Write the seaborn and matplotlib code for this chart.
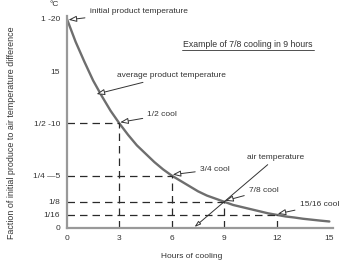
import matplotlib
matplotlib.use("Agg")
import matplotlib.pyplot as plt
import seaborn as sns
import pandas as pd

hours = [0, 0.5, 1, 1.5, 2, 2.5, 3, 3.5, 4, 4.5, 5, 5.5, 6, 6.5, 7, 7.5, 8, 8.5, 9, 9.5,
         10, 10.5, 11, 11.5, 12, 12.5, 13, 13.5, 14, 14.5, 15]
product_temp = [20, 17.8, 15.9, 14.1, 12.6, 11.2, 10, 8.9, 7.9, 7.1, 6.3, 5.6, 5, 4.5, 4.0,
                3.5, 3.1, 2.8, 2.5, 2.2, 2.0, 1.8, 1.6, 1.4, 1.25, 1.1, 1.0, 0.88, 0.79,
                0.7, 0.62]

cool_hours = [3, 6, 9, 12]
cool_levels = [10, 5, 2.5, 1.25]
cool_labels = ["1/2 cool", "3/4 cool", "7/8 cool", "15/16 cool"]

xticks = [0, 3, 6, 9, 12, 15]
yticks = [0, 1.25, 2.5, 5, 10, 15, 20]
ytick_labels = ["0", "1/16", "1/8", "1/4 \u20145", "1/2 -10", "15", "1 -20"]

sns.set_theme(style="white")
plt.rcParams['font.family'] = ['Liberation Sans', 'DejaVu Sans']

fig = plt.figure(figsize=(3.5, 2.74), dpi=100)
ax = fig.add_axes([0.191, 0.168, 0.76, 0.775])

df = pd.DataFrame({"h": hours, "t": product_temp})
sns.lineplot(data=df, x="h", y="t", ax=ax, color="#6e6e6e", lw=1.7)

dash = dict(color="#2a2a2a", lw=0.9, ls=(0, (6, 4)))
for h, lv in zip(cool_hours, cool_levels):
    ax.plot([0, h], [lv, lv], **dash)
    ax.plot([h, h], [0, lv], **dash)

ax.set_xlim(0, 15.2)
ax.set_ylim(0, 20.3)
ax.set_xticks(xticks)
ax.set_xticklabels([str(x) for x in xticks], fontsize=6, color="#333333")
ax.set_yticks(yticks)
ax.set_yticklabels(ytick_labels, fontsize=6, color="#333333")
ax.tick_params(axis="both", length=3, width=0.8, color="#444444", direction="out", pad=2)
for s in ["top", "right"]:
    ax.spines[s].set_visible(False)
for s in ["left", "bottom"]:
    ax.spines[s].set_color("#999999")
    ax.spines[s].set_linewidth(1.6)

ax.set_xlabel("Hours of cooling", fontsize=6, color="#333333")
ax.xaxis.set_label_coords(0.47, -0.12)
ax.set_ylabel("Faction of initial produce to air temperature difference", fontsize=6.4,
              color="#333333")
ax.yaxis.set_label_coords(-0.19, 0.45)
ax.text(-1.0, 21.2, "\u00b0C", fontsize=6, color="#333333", clip_on=False)

ap = dict(arrowstyle="-|>,head_length=0.8,head_width=0.3", fc="white", ec="#333333", lw=0.7,
          shrinkA=1, shrinkB=0)
kw = dict(fontsize=6, color="#333333", va="center", ha="left", annotation_clip=False)

ax.annotate("initial product temperature", xy=(0.1, 19.9), xytext=(1.3, 20.7), arrowprops=ap, **kw)
ax.annotate("average product temperature", xy=(1.7, 12.8), xytext=(2.85, 14.6), arrowprops=ap, **kw)
texts = [(4.6, 10.8), (7.6, 5.6), (10.4, 3.6), (13.3, 2.2)]
for h, lv, lab, xt in zip(cool_hours, cool_levels, cool_labels, texts):
    ax.annotate(lab, xy=(h + 0.05, lv + 0.1), xytext=xt, arrowprops=ap, **kw)
ax.annotate("air temperature", xy=(7.3, 0.1), xytext=(10.3, 6.7),
            arrowprops=dict(ap, shrinkA=0, arrowstyle="-|>,head_length=0.6,head_width=0.2"), **kw)

ax.text(10.35, 17.55, "Example of 7/8 cooling in 9 hours", fontsize=6.3, color="#333333",
        ha="center", va="center")
ax.plot([6.6, 14.1], [17.0, 17.0], color="#333333", lw=0.6)

fig.savefig("out.png", dpi=100)
